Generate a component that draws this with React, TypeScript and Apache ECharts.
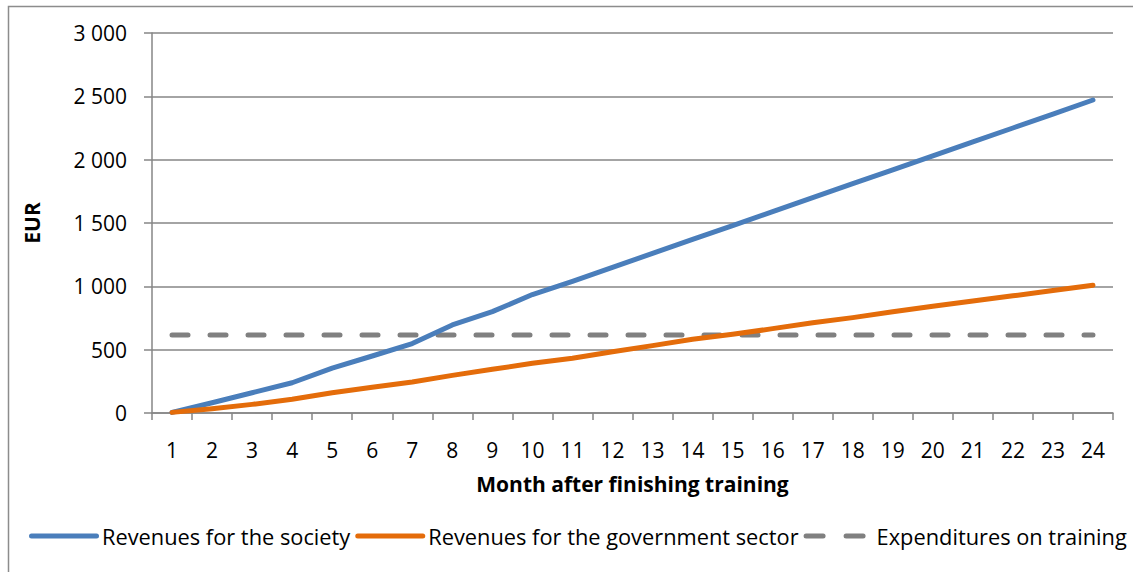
import React, { useEffect, useRef } from "react";
import * as echarts from "echarts";

const months = ["1", "2", "3", "4", "5", "6", "7", "8", "9", "10", "11", "12", "13", "14", "15", "16", "17", "18", "19", "20", "21", "22", "23", "24"];
const societyRevenue = [5, 81, 160, 239, 355, 450, 548, 695, 800, 935, 1040, 1150, 1260, 1370, 1480, 1590, 1700, 1810, 1920, 2030, 2140, 2250, 2360, 2471];
const governmentRevenue = [5, 34, 68, 108, 160, 203, 245, 297, 345, 392, 432, 484, 532, 582, 621, 666, 713, 753, 800, 842, 884, 925, 967, 1008];
const trainingExpenditure = [615, 615, 615, 615, 615, 615, 615, 615, 615, 615, 615, 615, 615, 615, 615, 615, 615, 615, 615, 615, 615, 615, 615, 615];
const seriesNames = ["Revenues for the society", "Revenues for the government sector", "Expenditures on training"];
const yTicks = { min: 0, max: 3000, interval: 500 };

const FONT = "'Open Sans', sans-serif";
const GRID_COLOR = "#868686";
const BLUE = "#4a7ebb";
const ORANGE = "#e46c0a";
const GREY = "#808080";

const SOLID_ICON = "path://M2.5,0 L67.5,0 A2.5,2.5 0 0 1 67.5,5 L2.5,5 A2.5,2.5 0 0 1 2.5,0 Z";
const DASH_ICON =
  "path://M2.5,0 L19.5,0 A2.5,2.5 0 0 1 19.5,5 L2.5,5 A2.5,2.5 0 0 1 2.5,0 Z M42.5,0 L59.5,0 A2.5,2.5 0 0 1 59.5,5 L42.5,5 A2.5,2.5 0 0 1 42.5,0 Z M70,2.5 L70,2.5 Z";

export default function App() {
  const ref = useRef<HTMLDivElement>(null);
  useEffect(() => {
    if (!ref.current) return;
    const chart = echarts.init(ref.current, undefined, { renderer: "svg" });
    chart.setOption({
      animation: false,
      backgroundColor: "#ffffff",
      textStyle: { fontFamily: FONT },
      graphic: [
        {
          type: "rect",
          shape: { x: 8.5, y: 6.5, width: 1200, height: 700 },
          style: { fill: "none", stroke: "#8c8c8c", lineWidth: 1.5 },
          silent: true,
        },
      ],
      grid: { left: 152, right: 20, top: 33, bottom: 159 },
      legend: {
        left: 24,
        top: 520,
        width: 1180,
        itemWidth: 70,
        itemHeight: 5,
        itemGap: 5,
        textStyle: { fontFamily: FONT, fontSize: 21.8, color: "#000", padding: [0, 0, 0, -2] },
        data: [
          { name: seriesNames[0], icon: SOLID_ICON, itemStyle: { color: BLUE } },
          { name: seriesNames[1], icon: SOLID_ICON, itemStyle: { color: ORANGE } },
          { name: seriesNames[2], icon: DASH_ICON, itemStyle: { color: GREY } },
        ],
      },
      xAxis: {
        type: "category",
        data: months,
        boundaryGap: true,
        name: "Month after finishing training",
        nameLocation: "middle",
        nameGap: 60,
        nameTextStyle: { fontFamily: FONT, fontSize: 21, fontWeight: "bold", color: "#000" },
        axisLine: { lineStyle: { color: GRID_COLOR, width: 1.5 } },
        axisTick: { show: true, length: 7, lineStyle: { color: GRID_COLOR, width: 1.5 } },
        axisLabel: { fontFamily: FONT, fontSize: 21, color: "#000", margin: 26, interval: 0 },
      },
      yAxis: {
        type: "value",
        min: yTicks.min,
        max: yTicks.max,
        interval: yTicks.interval,
        name: "EUR",
        nameLocation: "middle",
        nameRotate: 90,
        nameGap: 110,
        nameTextStyle: { fontFamily: FONT, fontSize: 21, fontWeight: "bold", color: "#000" },
        axisLine: { show: true, lineStyle: { color: GRID_COLOR, width: 1.5 } },
        axisTick: { show: true, length: 8, lineStyle: { color: GRID_COLOR, width: 1.5 } },
        axisLabel: {
          fontFamily: FONT,
          fontSize: 21,
          color: "#000",
          margin: 25,
          formatter: (v: number) => String(v).replace(/\B(?=(\d{3})+(?!\d))/g, " "),
        },
        splitLine: { show: true, lineStyle: { color: GRID_COLOR, width: 1.5 } },
      },
      series: [
        {
          name: seriesNames[0],
          type: "line",
          data: societyRevenue,
          symbol: "none",
          showSymbol: false,
          lineStyle: { color: BLUE, width: 5, cap: "round", join: "round" },
          itemStyle: { color: BLUE },
        },
        {
          name: seriesNames[1],
          type: "line",
          data: governmentRevenue,
          symbol: "none",
          showSymbol: false,
          lineStyle: { color: ORANGE, width: 5, cap: "round", join: "round" },
          itemStyle: { color: ORANGE },
        },
        {
          name: seriesNames[2],
          type: "line",
          data: trainingExpenditure,
          symbol: "none",
          showSymbol: false,
          z: 1,
          lineStyle: { color: GREY, width: 5, type: [16, 22], cap: "round" },
          itemStyle: { color: GREY },
        },
      ],
    });
    return () => chart.dispose();
  }, []);
  return (
    <div
      ref={ref}
      style={{ position: "absolute", left: 0, top: 0, width: 1133, height: 572 }}
    />
  );
}
